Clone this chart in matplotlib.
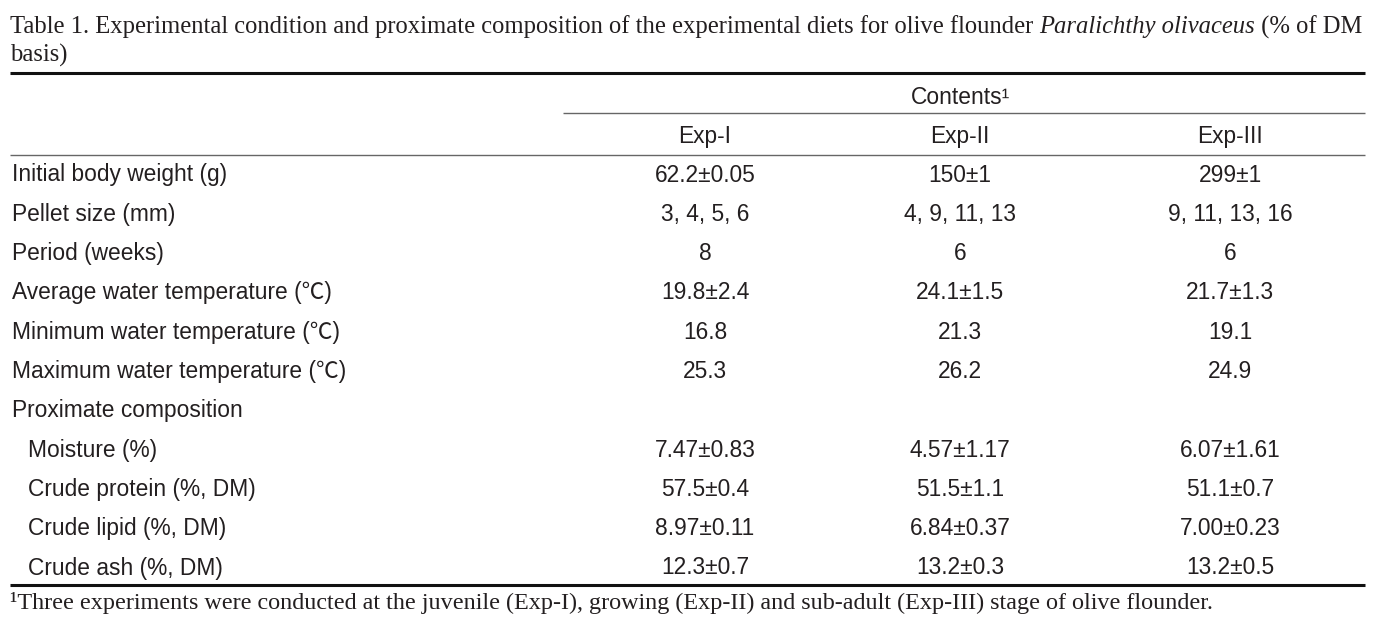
import matplotlib
matplotlib.use("Agg")
import matplotlib.pyplot as plt

# table content
title_parts = [
    ("Table 1. Experimental condition and proximate composition of the experimental diets for olive flounder ", "normal"),
    ("Paralichthy olivaceus", "italic"),
    (" (% of DM", "normal"),
]
title_line2 = "basis)"
group_header = "Contents\u00b9"
columns = ["Exp-I", "Exp-II", "Exp-III"]

row_labels = [
    "Initial body weight (g)",
    "Pellet size (mm)",
    "Period (weeks)",
    "Average water temperature (\u2103)",
    "Minimum water temperature (\u2103)",
    "Maximum water temperature (\u2103)",
    "Proximate composition",
    "Moisture (%)",
    "Crude protein (%, DM)",
    "Crude lipid (%, DM)",
    "Crude ash (%, DM)",
]
indented = [False] * 7 + [True] * 4

exp1 = ["62.2\u00b10.05", "3, 4, 5, 6", "8", "19.8\u00b12.4", "16.8", "25.3", "",
        "7.47\u00b10.83", "57.5\u00b10.4", "8.97\u00b10.11", "12.3\u00b10.7"]
exp2 = ["150\u00b11", "4, 9, 11, 13", "6", "24.1\u00b11.5", "21.3", "26.2", "",
        "4.57\u00b11.17", "51.5\u00b11.1", "6.84\u00b10.37", "13.2\u00b10.3"]
exp3 = ["299\u00b11", "9, 11, 13, 16", "6", "21.7\u00b11.3", "19.1", "24.9", "",
        "6.07\u00b11.61", "51.1\u00b10.7", "7.00\u00b10.23", "13.2\u00b10.5"]

footnote = ("\u00b9Three experiments were conducted at the juvenile (Exp-I), growing (Exp-II) "
            "and sub-adult (Exp-III) stage of olive flounder.")

W, H = 1384, 621
fig = plt.figure(figsize=(W / 100, H / 100), dpi=100)
ax = fig.add_axes([0, 0, 1, 1])
ax.set_xlim(0, W)
ax.set_ylim(H, 0)
ax.axis("off")

serif = ["Liberation Serif", "DejaVu Serif"]
sans = ["Liberation Sans", "Noto Sans CJK KR", "DejaVu Sans"]
txt_color = "#231f20"
fs_title = 17.7
fs_foot = 17.4
fs_body = 16.4

# title, pieced together so the species name can be italic
renderer = fig.canvas.get_renderer()
x = 10
for part, style in title_parts:
    t = ax.text(x, 27, part, family=serif, style=style, fontsize=fs_title,
                color=txt_color, va="center", ha="left")
    bb = t.get_window_extent(renderer=renderer)
    x += bb.width
ax.text(10, 55, title_line2, family=serif, fontsize=fs_title, color=txt_color,
        va="center", ha="left")

left, right = 10, 1365
ax.hlines(73, left, right, color="#111111", lw=2.2)
ax.hlines(585, left, right, color="#111111", lw=2.2)
ax.hlines(113, 563, right, color="#666666", lw=1.0)
ax.hlines(155, left, right, color="#666666", lw=1.0)

col_x = [705, 960, 1230]
ax.text(960, 97, group_header, family=sans, fontsize=fs_body, color=txt_color,
        ha="center", va="center")
for cx, name in zip(col_x, columns):
    ax.text(cx, 136, name, family=sans, fontsize=fs_body, color=txt_color,
            ha="center", va="center")

row_y0, row_step = 175, 39.3
for i, label in enumerate(row_labels):
    y = row_y0 + i * row_step
    lx = 28 if indented[i] else 12
    ax.text(lx, y, label, family=sans, fontsize=fs_body, color=txt_color,
            ha="left", va="center")
    for cx, vals in zip(col_x, (exp1, exp2, exp3)):
        if vals[i]:
            ax.text(cx, y, vals[i], family=sans, fontsize=fs_body, color=txt_color,
                    ha="center", va="center")

ax.text(10, 603, footnote, family=serif, fontsize=fs_foot, color=txt_color,
        ha="left", va="center")

fig.savefig("out.png", dpi=100)
